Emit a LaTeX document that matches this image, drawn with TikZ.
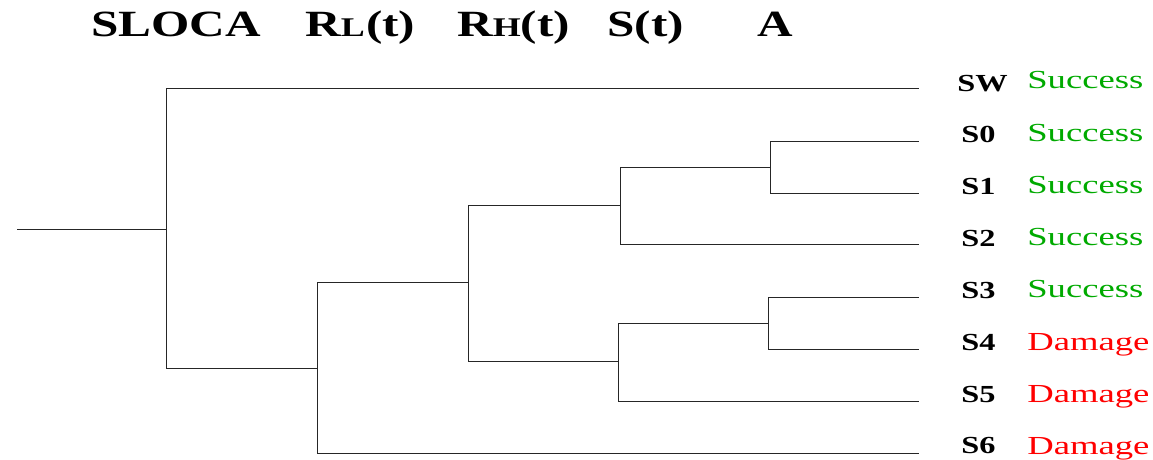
\documentclass[tikz,border=0pt]{standalone}
\usepackage{fontspec}
\setmainfont{Liberation Serif}
\definecolor{succgreen}{RGB}{0,170,0}
\definecolor{dmgred}{RGB}{255,0,0}
\begin{document}
\begin{tikzpicture}[x=1pt,y=-1pt,
  branch/.style={line width=1pt,color=black!85},
  head/.style={anchor=base west,inner sep=0pt,font=\fontsize{37}{37}\selectfont\bfseries,xscale=1.33,transform shape},
  leaf/.style={anchor=base west,inner sep=0pt,font=\fontsize{24.5}{25}\selectfont\bfseries,xscale=1.32,transform shape},
  okout/.style={anchor=base west,inner sep=0pt,font=\fontsize{26}{26}\selectfont,text=succgreen,xscale=1.41,transform shape},
  badout/.style={anchor=base west,inner sep=0pt,font=\fontsize{26}{26}\selectfont,text=dmgred,xscale=1.41,transform shape}]
\useasboundingbox (0,0) rectangle (1153,459);
% headers
\newcommand{\smallcapsub}[1]{{\fontsize{27}{27}\selectfont #1}}
\node[head] (hsloca) at (91,36) {SLOCA};
\node[head] (hrl) at (305,36) {R\smallcapsub{L}\kern1pt(t)};
\node[head] (hrh) at (457,36) {R\smallcapsub{H}(t)};
\node[head] (hs) at (607,36) {S(t)};
\node[head] (ha) at (757,36) {A};
% junction coordinates
\coordinate (r0) at (17,229);
\coordinate (j1) at (166,229);
\coordinate (j2) at (317,368);
\coordinate (j3) at (468,282);
\coordinate (j4) at (620,205);
\coordinate (j5) at (618,361);
\coordinate (j6) at (770,167);
\coordinate (j7) at (768,323);
% leaf ends
\coordinate (eSW) at (919,88);
\coordinate (eS0) at (919,141);
\coordinate (eS1) at (919,193);
\coordinate (eS2) at (919,244);
\coordinate (eS3) at (919,297);
\coordinate (eS4) at (919,349);
\coordinate (eS5) at (919,401);
\coordinate (eS6) at (919,453);
% tree
\draw[branch] (r0) -- (j1);
\draw[branch] (j1) |- (eSW);
\draw[branch] (j1) |- (j2);
\draw[branch] (j2) |- (j3);
\draw[branch] (j2) |- (eS6);
\draw[branch] (j3) |- (j4);
\draw[branch] (j3) |- (j5);
\draw[branch] (j4) |- (j6);
\draw[branch] (j4) |- (eS2);
\draw[branch] (j6) |- (eS0);
\draw[branch] (j6) |- (eS1);
\draw[branch] (j5) |- (j7);
\draw[branch] (j5) |- (eS5);
\draw[branch] (j7) |- (eS3);
\draw[branch] (j7) |- (eS4);
% leaf labels
\node[leaf] (lSW) at (957,91) {SW};
\node[leaf] (lS0) at (961,142) {S0};
\node[leaf] (lS1) at (961,194) {S1};
\node[leaf] (lS2) at (961,246) {S2};
\node[leaf] (lS3) at (961,298) {S3};
\node[leaf] (lS4) at (961,350) {S4};
\node[leaf] (lS5) at (961,402) {S5};
\node[leaf] (lS6) at (961,453) {S6};
\node[okout] (oSW) at (1027,88) {Success};
\node[okout] (oS0) at (1027,141) {Success};
\node[okout] (oS1) at (1027,193) {Success};
\node[okout] (oS2) at (1027,245) {Success};
\node[okout] (oS3) at (1027,297) {Success};
\node[badout] (oS4) at (1027,350) {Damage};
\node[badout] (oS5) at (1027,402) {Damage};
\node[badout] (oS6) at (1027,454) {Damage};
\end{tikzpicture}
\end{document}
